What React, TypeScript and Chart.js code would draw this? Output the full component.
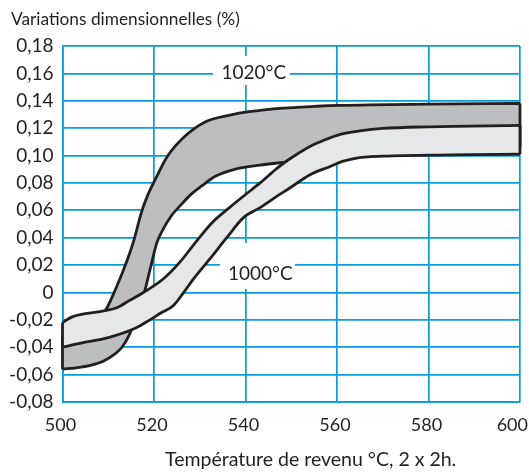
import React, { useEffect, useRef } from "react";
import { Chart, registerables } from "chart.js";

Chart.register(...registerables);

// 1000°C band
const light_upper_T = [500, 502, 505, 509, 512, 514.8, 517.7, 522, 525.7, 529.3, 533, 536.5, 539.8, 543.2, 546.8, 549, 551.5, 554, 557, 560.7, 565, 570, 580, 600];
const light_upper_V = [-0.022, -0.018, -0.0155, -0.0135, -0.011, -0.0055, 0.0, 0.0098, 0.0223, 0.0375, 0.052, 0.062, 0.071, 0.080, 0.0905, 0.096, 0.1015, 0.1065, 0.111, 0.1155, 0.118, 0.1198, 0.121, 0.122];
const light_lower_T = [500, 504, 510, 516, 519.1, 521.5, 524.2, 526.5, 528.6, 532.2, 535.9, 539.5, 543.2, 546.5, 549.7, 554.1, 558.5, 561, 564, 570, 585, 600];
const light_lower_V = [-0.040, -0.037, -0.033, -0.026, -0.020, -0.015, -0.0097, 0.0, 0.0098, 0.0245, 0.040, 0.0545, 0.062, 0.0695, 0.0763, 0.086, 0.092, 0.0955, 0.098, 0.0995, 0.1005, 0.101];

// 1020°C band
const dark_upper_T = [500, 505, 509.2, 511.8, 514.2, 515.6, 517.2, 518.5, 520.2, 522.8, 526.4, 531.5, 536.6, 540.8, 548.3, 555.6, 560.7, 580, 600];
const dark_upper_V = [-0.031, -0.022, -0.014, 0.004, 0.024, 0.038, 0.058, 0.070, 0.082, 0.0988, 0.113, 0.125, 0.1295, 0.132, 0.1346, 0.136, 0.1366, 0.1375, 0.138];
const dark_lower_T = [500, 503, 506.3, 509, 511.4, 513, 514.6, 516.3, 517.7, 519.3, 520.6, 521.8, 523.8, 525.9, 528.2, 530.5, 533.5, 538, 543.2, 548.3, 556, 570, 600];
const dark_lower_V = [-0.056, -0.055, -0.053, -0.050, -0.045, -0.040, -0.031, -0.016, -0.0025, 0.019, 0.036, 0.045, 0.056, 0.064, 0.072, 0.078, 0.085, 0.0903, 0.093, 0.095, 0.098, 0.103, 0.106];

const X_TICKS = [500, 520, 540, 560, 580, 600];
const Y_TICKS = [-0.08, -0.06, -0.04, -0.02, 0, 0.02, 0.04, 0.06, 0.08, 0.10, 0.12, 0.14, 0.16, 0.18];

const TITLE_Y = "Variations dimensionnelles (%)";
const TITLE_X = "Température de revenu °C, 2 x 2h.";
const LABEL_1020 = "1020°C";
const LABEL_1000 = "1000°C";

const BLUE = "#0a9ddc";
const INK = "#231f20";
const DARK = "#bcbec0";
const LIGHT = "#e6e7e8";
const FONT = "Lato";
const X_TICK_SIZE = 18;
const X_TICK_PAD = 12;

const pts = (t: number[], v: number[]) => t.map((x, i) => ({ x, y: v[i] }));
const edge = (x: number, a: number, b: number) => [{ x, y: a }, { x, y: b }];
const LAST_X = X_TICKS[X_TICKS.length - 1];

const fmt = (v: number) => {
  if (Math.abs(v) < 1e-9) return "0";
  return v.toFixed(2).replace(".", ",");
};

export default function App() {
  const ref = useRef<HTMLCanvasElement>(null);
  useEffect(() => {
    document.body.style.margin = "0";
    const canvas = ref.current!;
    const line = (data: any[], extra: any = {}) => ({
      data,
      showLine: true,
      borderColor: INK,
      borderWidth: 2.8,
      pointRadius: 0,
      cubicInterpolationMode: "monotone",
      fill: false,
      ...extra,
    });
    const straight = { clip: false, cubicInterpolationMode: "default", tension: 0 };
    const lu = pts(light_upper_T, light_upper_V);
    const ll = pts(light_lower_T, light_lower_V);
    const du = pts(dark_upper_T, dark_upper_V);
    const dl = pts(dark_lower_T, dark_lower_V);
    const last = (a: number[]) => a[a.length - 1];

    const labelsPlugin = {
      id: "labels",
      beforeDatasetsDraw(chart: any) {
        const ctx = chart.ctx;
        ctx.save();
        ctx.fillStyle = "#ffffff";
        ctx.fillRect(213, 56, 77, 29);
        ctx.fillRect(220, 243, 75, 46);
        ctx.restore();
      },
      afterDraw(chart: any) {
        const ctx = chart.ctx;
        const xs = chart.scales.x;
        ctx.save();
        ctx.fillStyle = INK;
        ctx.textBaseline = "alphabetic";
        ctx.textAlign = "left";
        ctx.font = `17.3px ${FONT}`;
        ctx.fillText(TITLE_Y, 11, 24.5);
        ctx.font = `19.5px ${FONT}`;
        ctx.fillText(TITLE_X, 165, 466);
        ctx.font = `19px ${FONT}`;
        ctx.fillText(LABEL_1020, 221.5, 78.5);
        ctx.fillText(LABEL_1000, 228, 279.5);
        // last x tick label, kept inside the canvas as in the original
        ctx.font = `${X_TICK_SIZE}px ${FONT}`;
        ctx.textAlign = "right";
        ctx.textBaseline = "middle";
        ctx.fillText(String(LAST_X), chart.width - 1, xs.top + X_TICK_PAD + (X_TICK_SIZE * 1.2) / 2);
        ctx.restore();
      },
    };

    const chart = new Chart(canvas, {
      type: "scatter",
      data: {
        datasets: [
          line(lu),
          line(ll),
          line(edge(500, light_upper_V[0], light_lower_V[0]), straight),
          line(edge(600, last(light_upper_V), last(light_lower_V)), straight),
          line(lu, { borderWidth: 0, fill: 5, backgroundColor: LIGHT }),
          line(ll, { borderWidth: 0 }),
          line(du),
          line(dl),
          line(edge(500, dark_upper_V[0], dark_lower_V[0]), straight),
          line(edge(600, last(dark_upper_V), last(dark_lower_V)), straight),
          line(du, { borderWidth: 0, fill: 11, backgroundColor: DARK }),
          line(dl, { borderWidth: 0 }),
        ] as any,
      },
      options: {
        animation: false,
        responsive: false,
        events: [],
        layout: { padding: { left: 0, right: 9, top: 46, bottom: 0 } },
        plugins: { legend: { display: false }, tooltip: { enabled: false }, title: { display: false } },
        scales: {
          x: {
            type: "linear",
            min: 500,
            max: 600,
            afterBuildTicks: (s: any) => {
              s.ticks = X_TICKS.map((v) => ({ value: v }));
            },
            afterFit: (s: any) => {
              s.height = 70;
              s.paddingLeft = 0;
              s.paddingRight = 0;
            },
            grid: { color: BLUE, lineWidth: 1.7, drawTicks: false },
            border: { color: BLUE, width: 1.7 },
            ticks: {
              color: INK,
              font: { family: FONT, size: X_TICK_SIZE },
              padding: X_TICK_PAD,
              maxRotation: 0,
              labelOffset: -2,
              callback: (v: any) => (Number(v) === LAST_X ? "" : String(v)),
            },
          },
          y: {
            type: "linear",
            min: -0.08,
            max: 0.18,
            afterBuildTicks: (s: any) => {
              s.ticks = Y_TICKS.map((v) => ({ value: v }));
            },
            afterFit: (s: any) => {
              s.width = 62.5;
            },
            grid: { color: BLUE, lineWidth: 1.7, drawTicks: false },
            border: { color: BLUE, width: 1.7 },
            ticks: {
              color: INK,
              font: { family: FONT, size: 19 },
              padding: 9,
              callback: (v: any) => fmt(Number(v)),
            },
          },
        },
      },
      plugins: [labelsPlugin],
    });
    return () => chart.destroy();
  }, []);
  return <canvas ref={ref} width={529} height={472} style={{ display: "block" }} />;
}
